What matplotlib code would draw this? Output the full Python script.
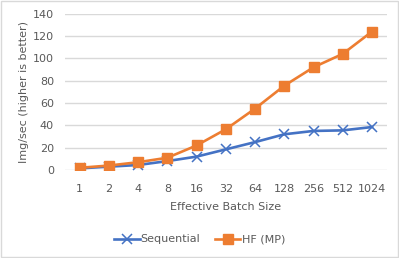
import matplotlib.pyplot as plt

batch_sizes = ["1", "2", "4", "8", "16", "32", "64", "128", "256", "512", "1024"]
sequential = [1.5, 3, 4.5, 8, 12, 18.5, 25, 32, 35, 35.5, 38.5]
hf_mp = [2, 4, 7, 11, 22, 36.5, 55, 75.5, 92, 104, 124]

grey = '#595959'

fig = plt.figure(figsize=(3.99, 2.58), dpi=100)
ax = fig.add_axes([0.163, 0.341, 0.806, 0.606])

x = range(len(batch_sizes))
ax.plot(x, sequential, color='#4472C4', linewidth=1.9, marker='x',
        markersize=7, markeredgewidth=1.1, label='Sequential')
ax.plot(x, hf_mp, color='#ED7D31', linewidth=1.9, marker='s',
        markersize=6.5, label='HF (MP)')

ax.set_xlim(-0.5, len(batch_sizes) - 0.5)
ax.set_ylim(0, 140)
ax.set_yticks(range(0, 141, 20))
ax.set_xticks(list(x))
ax.set_xticklabels(batch_sizes)
ax.grid(axis='y', color='#d9d9d9', linewidth=1)
ax.set_axisbelow(True)
for s in ax.spines.values():
    s.set_visible(False)
ax.tick_params(axis='x', length=0, labelsize=8, labelcolor=grey, pad=10)
ax.tick_params(axis='y', length=0, labelsize=8, labelcolor=grey, pad=8)

ax.set_xlabel('Effective Batch Size', fontsize=8, color=grey, labelpad=6)
ax.set_ylabel('Img/sec (higher is better)', fontsize=8, color=grey, labelpad=3)

fig.legend(*ax.get_legend_handles_labels(), loc='center', bbox_to_anchor=(0.5, 0.072),
           ncol=2, frameon=False, fontsize=8, labelcolor=grey, handlelength=2.3,
           columnspacing=1.3, handletextpad=0.1)

fig.patches.append(plt.Rectangle((0.002, 0.003), 0.995, 0.993, transform=fig.transFigure,
                                 fill=False, edgecolor='#d9d9d9', linewidth=1))

fig.savefig('out.png', dpi=100)
